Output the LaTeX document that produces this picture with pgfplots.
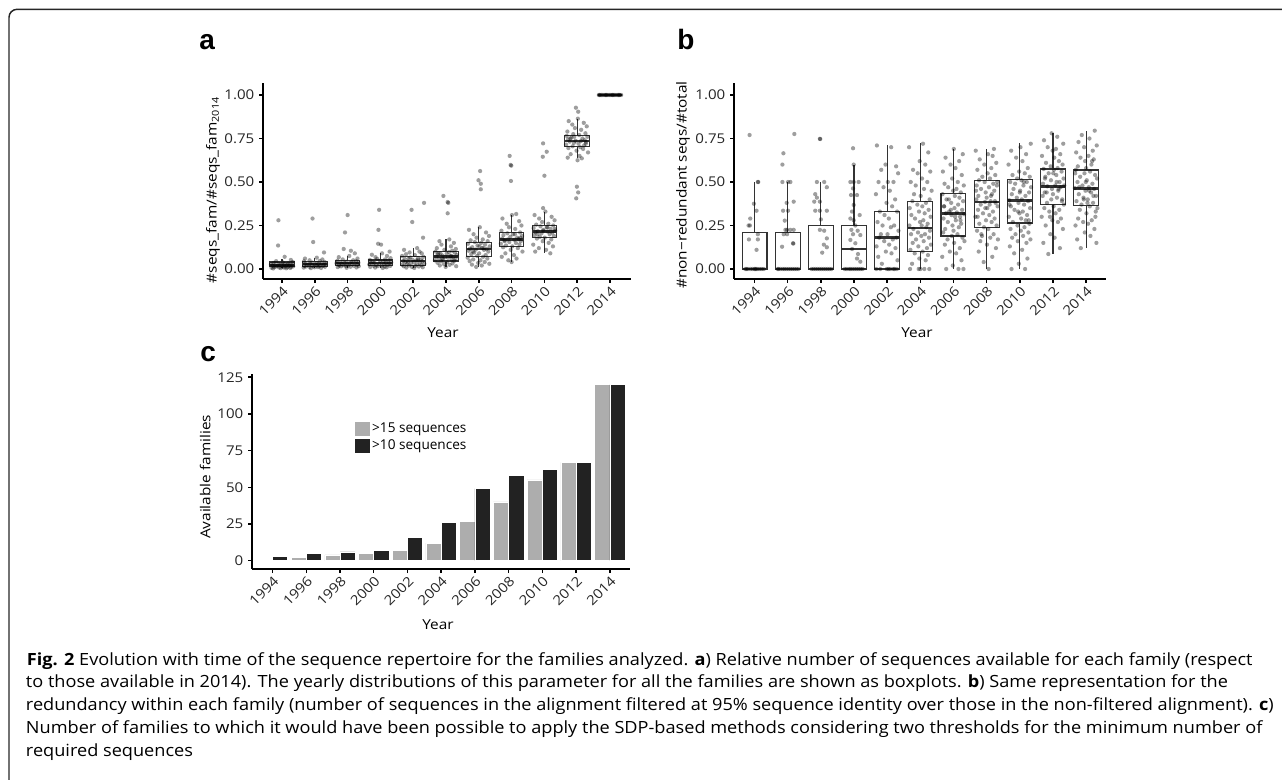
\documentclass[border=0pt]{standalone}
\usepackage{fontspec}
\setmainfont{Open Sans}
\newfontfamily\chartfont[FakeStretch=1.12]{Open Sans}
\newfontfamily\capfont[FakeStretch=1.08]{Open Sans}
\newfontfamily\helv{Liberation Sans}
\usepackage{pgfplots}
\pgfplotsset{compat=1.18}
\usepgfplotslibrary{statistics}
\definecolor{lightbar}{HTML}{ADADAD}
\definecolor{darkbar}{HTML}{222222}
\definecolor{boxc}{HTML}{333333}
\newcommand\labfont{\chartfont\fontsize{10.3}{12}\selectfont}
\pgfplotsset{
 panel/.style={
  scale only axis, anchor=south west,
  axis x line*=bottom, axis y line*=left,
  axis line style={line width=1.3pt, black},
  tick align=outside, major tick length=3pt,
  major tick style={line width=1.1pt, black},
  tick label style={font=\chartfont\fontsize{10.1}{12}\selectfont, text=black!85},
  /pgf/number format/assume math mode=true,
  xtick={0,...,10},
  xticklabels={1994,1996,1998,2000,2002,2004,2006,2008,2010,2012,2014},
  x tick label style={rotate=45, anchor=north east, inner sep=1pt},
  clip=false,
 },
 jit/.style={only marks, mark=*, mark size=1.6pt, mark options={solid, draw opacity=0, fill=black, fill opacity=0.38}},
 bp/.style={draw=boxc, line width=0.85pt, solid, fill=none,
   boxplot/draw direction=y,
   boxplot/every median/.style={line width=1.9pt}},
}
\newcommand\bx[6]{\addplot[bp, boxplot prepared={draw position=#1, lower whisker=#2, lower quartile=#3, median=#4, upper quartile=#5, upper whisker=#6, box extend=0.75, whisker extend=0}] coordinates {};}
\begin{document}
\begin{tikzpicture}
\useasboundingbox (0,0) rectangle (961.5pt,-585pt);
% frame
\draw[line width=1.1pt, black!85] (6.75pt,-600pt) -- (6.75pt,-13pt) arc[start angle=180,end angle=90,radius=6pt] -- (980pt,-7pt);
% panel letters
\node[anchor=base west, inner sep=0, font=\helv\bfseries\fontsize{21}{24}\selectfont] at (149.25pt,-37.5pt) {a};
\node[anchor=base west, inner sep=0, font=\helv\bfseries\fontsize{21}{24}\selectfont] at (507.75pt,-37.5pt) {b};
\node[anchor=base west, inner sep=0, font=\helv\bfseries\fontsize{21}{24}\selectfont] at (150pt,-271.5pt) {c};

% ---------------- panel a
\begin{axis}[panel, at={(197.25pt,-209.25pt)}, width=276pt, height=147pt,
  xmin=-0.58, xmax=10.64, ymin=-0.0575, ymax=1.069,
  ytick={0,0.25,0.5,0.75,1}, yticklabels={0.00,0.25,0.50,0.75,1.00},
  xlabel={Year}, ylabel={\#seqs\_fam/\#seqs\_fam\textsubscript{2014}},
  every axis x label/.style={at={(axis description cs:0.489,-0.276)}, anchor=center, font=\labfont},
  every axis y label/.style={at={(axis description cs:-0.136,0.454)}, rotate=90, anchor=center, font=\labfont}]
\bx{0}{0.003}{0.012}{0.022}{0.04}{0.055}
\bx{1}{0.005}{0.015}{0.028}{0.045}{0.065}
\bx{2}{0.007}{0.018}{0.035}{0.05}{0.075}
\bx{3}{0.006}{0.018}{0.035}{0.052}{0.09}
\bx{4}{0.006}{0.021}{0.045}{0.071}{0.12}
\bx{5}{0.012}{0.046}{0.071}{0.103}{0.17}
\bx{6}{0.012}{0.073}{0.115}{0.153}{0.24}
\bx{7}{0.04}{0.128}{0.17}{0.209}{0.31}
\bx{8}{0.09}{0.182}{0.215}{0.249}{0.33}
\bx{9}{0.636}{0.703}{0.735}{0.768}{0.864}
\bx{10}{1}{1}{1}{1}{1}
\addplot[jit] coordinates {
(-0.11,0.28)(-0.12,0.135)(0.08,0.07)(0.27,0.052)(-0.18,0.045)(0.33,0.04)(0.02,0.038)(-0.26,0.035)(0.19,0.032)(-0.11,0.03)(0.08,0.028)(-0.34,0.026)(0.24,0.025)(-0.02,0.024)(0.15,0.023)(-0.22,0.022)(0.30,0.022)(-0.08,0.021)(0.05,0.02)(-0.29,0.019)(0.21,0.018)(-0.14,0.017)(0.11,0.016)(0.34,0.015)(-0.19,0.014)(0.01,0.013)(0.28,0.012)(-0.24,0.011)(0.17,0.010)(-0.09,0.009)(0.06,0.008)(-0.32,0.007)(0.25,0.006)(-0.04,0.005)(0.13,0.004)(-0.27,0.003)
(0.93,0.29)(0.95,0.155)(1.28,0.095)(1.06,0.065)(0.70,0.06)(1.23,0.055)(0.84,0.05)(1.15,0.046)(0.67,0.044)(1.30,0.04)(0.92,0.037)(1.05,0.035)(0.71,0.033)(1.21,0.031)(0.86,0.03)(1.11,0.029)(1.34,0.028)(0.81,0.027)(1.01,0.026)(1.28,0.025)(0.76,0.024)(1.17,0.022)(0.91,0.021)(1.06,0.02)(0.68,0.018)(1.25,0.017)(0.96,0.016)(1.13,0.015)(0.73,0.014)(1.31,0.013)(0.84,0.012)(1.09,0.011)(0.99,0.01)(0.66,0.008)(1.19,0.006)(0.88,0.005)
(2.00,0.31)(1.92,0.21)(1.88,0.115)(2.10,0.105)(2.22,0.09)(2.05,0.075)(1.73,0.068)(2.30,0.06)(1.85,0.055)(2.17,0.05)(1.69,0.048)(2.26,0.045)(1.96,0.042)(2.12,0.04)(1.78,0.038)(2.33,0.036)(1.90,0.035)(2.07,0.034)(1.66,0.033)(2.24,0.032)(1.82,0.03)(2.14,0.028)(1.99,0.026)(1.72,0.025)(2.29,0.024)(1.87,0.022)(2.03,0.021)(1.75,0.02)(2.19,0.019)(1.94,0.018)(2.34,0.016)(1.80,0.015)(2.09,0.013)(1.70,0.011)(2.27,0.009)(1.97,0.007)
(2.96,0.34)(2.94,0.225)(2.93,0.145)(3.02,0.14)(3.28,0.10)(3.05,0.09)(2.74,0.082)(3.20,0.075)(2.85,0.068)(3.31,0.062)(2.90,0.058)(3.14,0.055)(2.68,0.052)(3.24,0.049)(2.99,0.046)(3.09,0.043)(2.77,0.04)(3.33,0.038)(2.82,0.036)(3.17,0.035)(2.71,0.034)(3.27,0.032)(2.97,0.03)(3.11,0.028)(2.66,0.026)(3.22,0.024)(2.88,0.022)(3.04,0.02)(2.79,0.019)(3.30,0.018)(2.92,0.016)(3.13,0.014)(2.69,0.012)(3.19,0.01)(2.84,0.008)(3.07,0.006)
(4.33,0.38)(3.95,0.34)(3.97,0.27)(4.30,0.18)(4.12,0.12)(3.72,0.11)(4.19,0.10)(3.89,0.095)(4.26,0.09)(3.78,0.085)(4.05,0.08)(3.66,0.075)(4.31,0.07)(3.91,0.066)(4.15,0.062)(3.74,0.058)(4.23,0.055)(3.98,0.052)(4.09,0.049)(3.69,0.046)(4.28,0.045)(3.84,0.043)(4.02,0.04)(3.76,0.038)(4.20,0.035)(3.93,0.032)(4.34,0.03)(3.81,0.028)(4.11,0.026)(3.67,0.024)(4.25,0.022)(3.87,0.02)(4.06,0.018)(3.71,0.016)(4.17,0.014)(3.96,0.012)(4.29,0.01)(3.79,0.008)(4.03,0.006)(4.14,0.05)(3.86,0.06)
(4.92,0.42)(5.05,0.385)(5.07,0.38)(5.05,0.32)(5.10,0.17)(4.80,0.16)(5.24,0.15)(4.86,0.14)(5.15,0.13)(4.72,0.12)(5.30,0.115)(4.95,0.11)(5.19,0.105)(4.68,0.10)(5.09,0.097)(5.27,0.094)(4.83,0.09)(5.02,0.087)(4.75,0.084)(5.33,0.08)(4.89,0.077)(5.13,0.074)(4.70,0.071)(5.22,0.07)(4.97,0.068)(5.06,0.065)(4.78,0.062)(5.29,0.059)(4.91,0.056)(5.17,0.053)(4.66,0.05)(5.25,0.047)(4.85,0.044)(5.03,0.04)(4.74,0.036)(5.20,0.032)(4.94,0.028)(5.11,0.024)(4.81,0.02)(5.31,0.016)(4.99,0.012)(4.77,0.09)(5.16,0.075)(4.88,0.06)
(6.04,0.563)(5.99,0.51)(6.06,0.49)(6.06,0.458)(6.03,0.24)(5.70,0.225)(6.22,0.21)(5.84,0.2)(6.31,0.19)(5.93,0.18)(6.12,0.17)(5.75,0.165)(6.27,0.16)(5.88,0.155)(6.07,0.15)(5.67,0.145)(6.19,0.14)(5.96,0.135)(6.33,0.13)(5.80,0.125)(6.10,0.12)(5.73,0.117)(6.24,0.115)(5.91,0.112)(6.16,0.11)(5.69,0.105)(6.29,0.1)(5.86,0.095)(6.01,0.09)(5.77,0.085)(6.21,0.08)(5.95,0.075)(6.13,0.07)(5.66,0.065)(6.26,0.06)(5.83,0.055)(6.05,0.05)(5.72,0.045)(6.18,0.04)(5.98,0.035)(6.32,0.03)(5.79,0.025)(6.09,0.02)(5.92,0.012)(6.02,0.13)(5.82,0.1)(6.14,0.12)
(6.94,0.65)(6.97,0.598)(6.99,0.594)(6.98,0.506)(7.14,0.316)(7.01,0.31)(6.72,0.29)(7.23,0.275)(6.85,0.26)(7.30,0.25)(6.92,0.24)(7.11,0.23)(6.69,0.22)(7.26,0.21)(6.87,0.205)(7.04,0.2)(6.75,0.195)(7.32,0.19)(6.96,0.185)(7.17,0.18)(6.71,0.175)(7.21,0.172)(6.89,0.17)(7.08,0.168)(6.78,0.165)(7.28,0.16)(6.93,0.155)(7.13,0.15)(6.67,0.145)(7.24,0.14)(6.83,0.135)(7.02,0.13)(6.74,0.125)(7.19,0.12)(6.97,0.11)(7.33,0.1)(6.81,0.09)(7.07,0.08)(6.70,0.07)(7.15,0.06)(6.90,0.05)(7.00,0.04)(7.27,0.18)(6.79,0.16)(7.10,0.2)
(7.96,0.722)(8.07,0.674)(7.95,0.645)(8.00,0.536)(7.96,0.35)(8.03,0.33)(7.70,0.31)(8.22,0.30)(7.84,0.29)(8.31,0.28)(7.93,0.27)(8.12,0.26)(7.75,0.255)(8.27,0.25)(7.88,0.245)(8.07,0.24)(7.67,0.235)(8.19,0.23)(7.96,0.225)(8.33,0.22)(7.80,0.217)(8.10,0.215)(7.73,0.212)(8.24,0.21)(7.91,0.205)(8.16,0.2)(7.69,0.195)(8.29,0.19)(7.86,0.185)(8.01,0.18)(7.77,0.175)(8.21,0.17)(7.95,0.16)(8.13,0.15)(7.66,0.14)(8.26,0.13)(7.83,0.12)(8.05,0.11)(7.72,0.1)(8.18,0.09)(7.98,0.22)(8.32,0.23)(7.79,0.2)(8.09,0.24)
(8.96,0.927)(9.03,0.904)(8.99,0.473)(9.03,0.44)(8.97,0.406)(9.02,0.864)(8.74,0.85)(9.20,0.84)(8.85,0.83)(9.29,0.82)(8.93,0.81)(9.12,0.8)(8.70,0.79)(9.25,0.78)(8.88,0.775)(9.06,0.77)(8.68,0.765)(9.31,0.76)(8.82,0.755)(9.16,0.75)(8.72,0.745)(9.23,0.74)(8.95,0.737)(9.11,0.735)(8.77,0.732)(9.27,0.73)(8.90,0.725)(9.04,0.72)(8.66,0.715)(9.21,0.71)(8.86,0.705)(9.09,0.7)(8.73,0.695)(9.18,0.69)(8.98,0.68)(9.33,0.67)(8.80,0.66)(9.07,0.65)(8.71,0.64)(9.14,0.636)(9.01,0.625)(8.79,0.75)(9.26,0.72)(8.91,0.76)
(9.66,1)(9.70,1)(9.74,1)(9.78,1)(9.82,1)(9.86,1)(9.90,1)(9.94,1)(9.98,1)(10.02,1)(10.06,1)(10.10,1)(10.14,1)(10.18,1)(10.22,1)(10.26,1)(10.30,1)(10.34,1)(9.68,1)(9.88,1)(10.08,1)(10.28,1)
};
\end{axis}

% ---------------- panel b
\begin{axis}[panel, at={(550.5pt,-209.25pt)}, width=279pt, height=147pt,
  xmin=-0.62, xmax=10.6, ymin=-0.0575, ymax=1.069,
  ytick={0,0.25,0.5,0.75,1}, yticklabels={0.00,0.25,0.50,0.75,1.00},
  xlabel={Year}, ylabel={\#non−redundant seqs/\#total},
  every axis x label/.style={at={(axis description cs:0.492,-0.276)}, anchor=center, font=\labfont},
  every axis y label/.style={at={(axis description cs:-0.137,0.48)}, rotate=90, anchor=center, font=\labfont}]
\bx{0}{0}{0}{0}{0.21}{0.5}
\bx{1}{0}{0}{0}{0.21}{0.5}
\bx{2}{0}{0}{0}{0.251}{0.5}
\bx{3}{0}{0}{0.115}{0.251}{0.6}
\bx{4}{0}{0}{0.18}{0.33}{0.713}
\bx{5}{0}{0.1}{0.236}{0.389}{0.724}
\bx{6}{0}{0.19}{0.32}{0.435}{0.69}
\bx{7}{0}{0.24}{0.385}{0.51}{0.69}
\bx{8}{0}{0.264}{0.393}{0.513}{0.724}
\bx{9}{0.086}{0.37}{0.475}{0.575}{0.78}
\bx{10}{0.119}{0.366}{0.464}{0.569}{0.795}
\addplot[jit] coordinates {
(-0.15,0.77)(0.10,0.5)(0.11,0.5)(-0.02,0.375)(0.06,0.335)(-0.13,0.29)(-0.18,0.25)(-0.14,0.25)(0.10,0.2)(-0.17,0.17)(0.10,0.17)(0.06,0.11)(-0.28,0)(-0.2,0)(-0.12,0)(-0.06,0)(0,0)(0.05,0)(0.1,0)(0.16,0)(0.22,0)(0.28,0)(-0.24,0)(0.02,0)
(1.20,0.776)(0.87,0.665)(0.84,0.6)(0.84,0.5)(1.01,0.5)(1.08,0.5)(1.18,0.387)(0.97,0.38)(0.86,0.335)(1.01,0.335)(0.91,0.278)(0.98,0.225)(0.93,0.225)(1.08,0.225)(1.18,0.225)(0.88,0.2)(0.98,0.2)(1.16,0.148)(1.17,0.146)(0.83,0.128)(0.72,0)(0.78,0)(0.85,0)(0.9,0)(0.96,0)(1.02,0)(1.08,0)(1.14,0)(1.2,0)(1.26,0)(1.32,0)(0.7,0)
(1.98,0.747)(1.97,0.748)(1.88,0.5)(2.10,0.5)(2.18,0.47)(1.83,0.43)(1.88,0.41)(1.80,0.387)(1.97,0.387)(1.83,0.335)(1.97,0.335)(2.18,0.335)(2.00,0.285)(1.97,0.225)(2.10,0.22)(2.18,0.176)(2.09,0.14)(2.18,0.125)(2.04,0.094)(1.72,0)(1.78,0)(1.84,0)(1.9,0)(1.96,0)(2.02,0)(2.08,0)(2.14,0)(2.2,0)(2.26,0)(2.32,0)
(2.97,0.694)(2.99,0.6)(2.89,0.5)(2.99,0.5)(3.14,0.5)(2.97,0.463)(2.91,0.425)(3.09,0.425)(2.99,0.368)(2.94,0.33)(3.17,0.31)(2.89,0.29)(2.99,0.28)(3.04,0.25)(2.92,0.225)(3.11,0.22)(2.97,0.2)(3.19,0.195)(2.89,0.167)(3.04,0.148)(2.94,0.115)(3.12,0.086)(3.09,0.06)(3.19,0.042)(2.72,0)(2.78,0)(2.85,0)(2.9,0)(2.96,0)(3.02,0)(3.08,0)(3.14,0)(3.2,0)(3.26,0)
(3.69,0.71)(4.12,0.7)(3.95,0.6)(4.27,0.59)(3.82,0.57)(4.33,0.55)(4.02,0.5)(3.74,0.5)(4.19,0.5)(3.89,0.47)(4.08,0.45)(3.66,0.43)(4.24,0.4)(3.98,0.38)(4.15,0.36)(3.78,0.33)(4.30,0.33)(3.92,0.31)(4.05,0.29)(3.71,0.27)(4.21,0.25)(3.86,0.25)(4.11,0.24)(4.34,0.22)(3.81,0.2)(4.01,0.2)(4.28,0.18)(3.76,0.18)(4.17,0.17)(3.91,0.16)(4.06,0.14)(3.68,0.13)(4.25,0.12)(3.96,0.1)(4.13,0.09)(3.73,0.07)(4.31,0.05)(3.84,0.03)(4.09,0)(3.99,0)(4.22,0)(3.67,0)(4.04,0)(4.18,0)(3.79,0)(4.29,0)
(5.08,0.72)(4.66,0.7)(5.24,0.67)(4.98,0.62)(5.15,0.6)(4.78,0.57)(5.30,0.56)(4.92,0.55)(5.05,0.52)(4.71,0.5)(5.21,0.5)(4.86,0.48)(5.11,0.46)(5.34,0.45)(4.81,0.43)(5.01,0.42)(5.28,0.4)(4.76,0.39)(5.17,0.38)(4.91,0.37)(5.06,0.36)(4.68,0.35)(5.25,0.34)(4.96,0.33)(5.13,0.32)(4.73,0.31)(5.31,0.3)(4.84,0.29)(5.09,0.28)(4.99,0.27)(5.22,0.26)(4.67,0.25)(5.04,0.25)(5.18,0.24)(4.79,0.23)(5.29,0.22)(4.93,0.21)(5.14,0.2)(4.72,0.2)(5.03,0.19)(5.26,0.18)(4.87,0.17)(5.10,0.16)(4.77,0.15)(5.32,0.14)(4.94,0.13)(5.20,0.12)(4.70,0.11)(5.07,0.1)(4.83,0.09)(5.23,0.08)(4.97,0.06)(5.16,0.05)(4.75,0.03)(5.00,0)(4.69,0)(5.12,0)(4.95,0)(5.27,0)
(6.01,0.69)(6.28,0.66)(5.76,0.64)(6.17,0.62)(5.91,0.6)(6.06,0.58)(5.68,0.56)(6.25,0.54)(5.96,0.52)(6.13,0.5)(5.73,0.49)(6.31,0.48)(5.84,0.47)(6.09,0.46)(5.99,0.45)(6.22,0.44)(5.67,0.43)(6.04,0.42)(6.18,0.41)(5.79,0.4)(6.29,0.39)(5.93,0.38)(6.14,0.37)(5.72,0.36)(6.03,0.35)(6.26,0.34)(5.87,0.33)(6.10,0.325)(5.77,0.32)(6.32,0.315)(5.94,0.31)(6.20,0.3)(5.70,0.29)(6.07,0.28)(5.83,0.27)(6.23,0.26)(5.97,0.25)(6.16,0.24)(5.75,0.23)(6.00,0.22)(5.69,0.21)(6.12,0.2)(5.95,0.19)(6.27,0.18)(5.82,0.17)(6.33,0.16)(6.02,0.15)(5.74,0.14)(6.19,0.12)(5.89,0.1)(6.08,0.09)(5.66,0.07)(6.24,0.05)(5.98,0.02)(6.15,0)(5.78,0)(6.30,0)(5.92,0.34)(6.05,0.3)(5.71,0.36)(6.21,0.28)(5.86,0.4)
(7.22,0.69)(6.67,0.68)(7.04,0.66)(7.18,0.65)(6.79,0.63)(7.29,0.61)(6.93,0.6)(7.14,0.58)(6.72,0.57)(7.03,0.55)(7.26,0.54)(6.87,0.53)(7.10,0.52)(6.77,0.51)(7.32,0.5)(6.94,0.5)(7.20,0.49)(6.70,0.48)(7.07,0.47)(6.83,0.46)(7.23,0.45)(6.97,0.44)(7.16,0.43)(6.75,0.42)(7.00,0.41)(6.69,0.4)(7.12,0.39)(6.95,0.385)(7.27,0.38)(6.82,0.37)(7.33,0.36)(7.02,0.35)(6.74,0.34)(7.19,0.33)(6.89,0.32)(7.08,0.31)(6.66,0.3)(7.24,0.29)(6.98,0.28)(7.15,0.27)(6.78,0.26)(7.30,0.25)(6.92,0.24)(7.05,0.23)(6.71,0.22)(7.21,0.2)(6.86,0.19)(7.11,0.18)(7.34,0.17)(6.81,0.16)(7.01,0.14)(7.28,0.12)(6.76,0.1)(7.17,0.07)(6.91,0.04)(7.06,0)(6.68,0.45)(7.25,0.39)(6.96,0.35)(7.13,0.42)(6.73,0.3)(7.31,0.48)(6.84,0.2)(7.09,0.37)
(8.33,0.72)(8.02,0.7)(7.74,0.68)(8.19,0.66)(7.89,0.64)(8.08,0.62)(7.66,0.6)(8.24,0.58)(7.98,0.56)(8.15,0.55)(7.78,0.54)(8.30,0.53)(7.92,0.52)(8.05,0.51)(7.71,0.5)(8.21,0.5)(7.86,0.49)(8.11,0.48)(8.34,0.47)(7.81,0.46)(8.01,0.45)(8.28,0.44)(7.76,0.43)(8.17,0.42)(7.91,0.41)(8.06,0.4)(7.68,0.395)(8.25,0.39)(7.96,0.38)(8.13,0.37)(7.73,0.36)(8.31,0.35)(7.84,0.34)(8.09,0.33)(7.99,0.32)(8.22,0.31)(7.67,0.3)(8.04,0.29)(8.18,0.28)(7.79,0.27)(8.29,0.26)(7.93,0.25)(8.14,0.24)(7.72,0.23)(8.03,0.22)(8.26,0.21)(7.87,0.2)(8.10,0.19)(7.77,0.18)(8.32,0.17)(7.94,0.16)(8.20,0.15)(7.70,0.13)(8.07,0.11)(7.83,0.09)(8.23,0.06)(7.97,0.03)(8.16,0)(7.75,0)(8.00,0.44)(7.69,0.37)(8.12,0.5)(7.95,0.33)(8.27,0.28)
(8.96,0.78)(9.13,0.76)(8.73,0.74)(9.31,0.72)(8.84,0.7)(9.09,0.69)(8.99,0.68)(9.22,0.66)(8.67,0.65)(9.04,0.64)(9.18,0.62)(8.79,0.61)(9.29,0.6)(8.93,0.59)(9.14,0.58)(8.72,0.575)(9.03,0.57)(9.26,0.56)(8.87,0.55)(9.10,0.54)(8.77,0.53)(9.32,0.52)(8.94,0.51)(9.20,0.5)(8.70,0.49)(9.07,0.48)(8.83,0.475)(9.23,0.47)(8.97,0.46)(9.16,0.45)(8.75,0.44)(9.00,0.43)(8.69,0.42)(9.12,0.41)(8.95,0.4)(9.27,0.39)(8.82,0.38)(9.33,0.37)(9.02,0.36)(8.74,0.35)(9.19,0.34)(8.89,0.33)(9.08,0.32)(8.66,0.3)(9.24,0.29)(8.98,0.28)(9.15,0.27)(8.78,0.25)(9.30,0.23)(8.92,0.2)(9.05,0.18)(8.71,0.15)(9.21,0.12)(8.86,0.086)(9.11,0.5)(9.34,0.48)(8.81,0.44)(9.01,0.55)(9.28,0.4)(8.76,0.52)(9.17,0.46)(8.91,0.3)
(10.26,0.795)(9.87,0.77)(10.10,0.75)(9.77,0.73)(10.32,0.71)(9.94,0.7)(10.20,0.68)(9.70,0.67)(10.07,0.65)(9.83,0.64)(10.23,0.63)(9.97,0.62)(10.16,0.6)(9.75,0.59)(10.00,0.58)(9.69,0.57)(10.12,0.56)(9.95,0.55)(10.27,0.54)(9.82,0.53)(10.33,0.52)(10.02,0.51)(9.74,0.5)(10.19,0.49)(9.89,0.48)(10.08,0.47)(9.66,0.465)(10.24,0.46)(9.98,0.45)(10.15,0.44)(9.78,0.43)(10.30,0.42)(9.92,0.41)(10.05,0.4)(9.71,0.39)(10.21,0.38)(9.86,0.37)(10.11,0.36)(10.34,0.35)(9.81,0.34)(10.01,0.32)(10.28,0.3)(9.76,0.29)(10.17,0.28)(9.91,0.27)(10.06,0.26)(9.68,0.25)(10.25,0.23)(9.96,0.21)(10.13,0.19)(9.73,0.17)(10.31,0.15)(9.84,0.12)(10.09,0.45)(9.99,0.5)(10.22,0.42)(9.67,0.55)(10.04,0.38)(10.18,0.62)(9.79,0.47)(10.29,0.33)(9.93,0.4)
};
\end{axis}

% ---------------- panel c
\begin{axis}[panel, at={(189pt,-426.75pt)}, width=283.5pt, height=146.25pt,
  xmin=-0.61, xmax=10.6, ymin=-5.7, ymax=127.2,
  ytick={0,25,50,75,100,125},
  xlabel={Year}, ylabel={Available families},
  every axis x label/.style={at={(axis description cs:0.492,-0.287)}, anchor=center, font=\labfont},
  every axis y label/.style={at={(axis description cs:-0.124,0.472)}, rotate=90, anchor=center, font=\labfont},
  legend style={at={(axis description cs:0.27,0.762)}, anchor=north west, draw=none, fill=none,
    font=\fontsize{10.2}{12}\selectfont, inner sep=0pt, row sep=0.8pt,
    nodes={inner sep=1.5pt}},
  legend cell align=left,
  legend image code/.code={\fill[#1] (0pt,-5.75pt) rectangle (11.5pt,5.75pt);}]
\addplot[ybar, bar width=0.45, bar shift=-0.225, fill=lightbar, draw=white, line width=0.4pt]
 coordinates {(0,1)(1,2)(2,4)(3,5)(4,7)(5,12)(6,27)(7,40)(8,55)(9,67)(10,120)};
\addlegendentry{>15 sequences}
\addplot[ybar, bar width=0.45, bar shift=0.225, fill=darkbar, draw=white, line width=0.4pt]
 coordinates {(0,3)(1,5)(2,6)(3,7)(4,16)(5,26)(6,49)(7,58)(8,62)(9,67)(10,120)};
\addlegendentry{>10 sequences}
\end{axis}

% caption
\begin{scope}[every node/.style={anchor=base west, inner sep=0, font=\capfont\fontsize{12.6}{15}\selectfont}]
\node at (20pt,-498.75pt) {\textbf{Fig. 2} Evolution with time of the sequence repertoire for the families analyzed. \textbf{a}) Relative number of sequences available for each family (respect};
\node at (19.3pt,-515.5pt) {to those available in 2014). The yearly distributions of this parameter for all the families are shown as boxplots. \textbf{b}) Same representation for the};
\node at (19.3pt,-532.5pt) {redundancy within each family (number of sequences in the alignment filtered at 95\% sequence identity over those in the non-filtered alignment). \textbf{c})};
\node at (19.3pt,-549.75pt) {Number of families to which it would have been possible to apply the SDP-based methods considering two thresholds for the minimum number of};
\node at (19.3pt,-567.5pt) {required sequences};
\end{scope}
\end{tikzpicture}
\end{document}
